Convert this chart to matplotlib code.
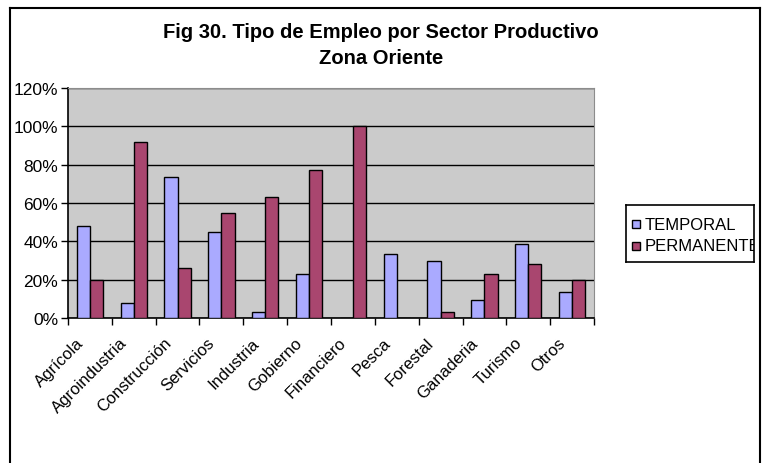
import numpy as np
import matplotlib
matplotlib.use("Agg")
import matplotlib.pyplot as plt
from matplotlib.patches import Rectangle
from matplotlib.lines import Line2D
from matplotlib.transforms import ScaledTranslation

plt.rcParams['font.family'] = ['Liberation Sans', 'DejaVu Sans']

# data
sectors = ["Agrícola", "Agroindustria", "Construcción", "Servicios", "Industria",
           "Gobierno", "Financiero", "Pesca", "Forestal", "Ganaderia", "Turismo", "Otros"]
temporal = [48, 8, 73.5, 45, 3, 23, 0, 33.5, 29.5, 9.5, 38.5, 13.5]
permanente = [20, 92, 26, 55, 63, 77, 100, 0, 3, 23, 28, 20]
yticks = [0, 20, 40, 60, 80, 100, 120]

c_temp = "#aaaaff"
c_perm = "#a9466f"

fig = plt.figure(figsize=(7.62, 4.64), dpi=100)

# outer chart frame (left, top, right only - bottom is cut off)
for xs, ys in [([10/762, 10/762], [0, 1-9/464]),
               ([10/762, 760/762], [1-9/464, 1-9/464]),
               ([760/762, 760/762], [0, 1-9/464])]:
    fig.add_artist(Line2D(xs, ys, color="black", lw=1.5, transform=fig.transFigure))

ax = fig.add_axes([68/762, 1-319/464, (594-68)/762, (319-89)/464])
ax.set_facecolor("#cbcbcb")

x = np.arange(len(sectors))
w = 0.3
ax.bar(x - w/2, temporal, w, color=c_temp, edgecolor="black", linewidth=1, zorder=3)
ax.bar(x + w/2, permanente, w, color=c_perm, edgecolor="black", linewidth=1, zorder=3)

ax.set_xlim(-0.5, len(sectors) - 0.5)
ax.set_ylim(0, 120)
ax.set_yticks(yticks)
ax.set_yticklabels([f"{v}%" for v in yticks], fontsize=12.5)
ax.yaxis.grid(True, color="black", lw=1, zorder=1)
ax.set_axisbelow(True)

# category labels drawn by hand: Excel puts the end of the rotated text
# a bit left of the category centre
ax.set_xticks([])
ax.set_xticks(np.arange(-0.5, len(sectors)), minor=True)
ax.tick_params(axis="x", which="minor", length=5, width=1, direction="out")
ax.tick_params(axis="y", length=5, width=1, direction="out", pad=2)
shift = ScaledTranslation(-9/100, -22/100, fig.dpi_scale_trans)
for i, name in enumerate(sectors):
    ax.text(i, 0, name, transform=ax.get_xaxis_transform() + shift,
            rotation=45, ha="right", va="center", rotation_mode="anchor", fontsize=12)

for s in ["top", "right"]:
    ax.spines[s].set_color("#8c8c8c")
for s in ["left", "bottom"]:
    ax.spines[s].set_color("black")
    ax.spines[s].set_linewidth(1.2)

fig.text(0.5, 1-33/464, "Fig 30. Tipo de Empleo por Sector Productivo",
         ha="center", va="center", fontsize=14.5, fontweight="bold")
fig.text(0.5, 1-59/464, "Zona Oriente",
         ha="center", va="center", fontsize=14.5, fontweight="bold")

# legend box, the text on the right is cut by the frame like in the original
lax = fig.add_axes([626/762, 1-263/464, (754-626)/762, (263-206)/464])
lax.set_xlim(0, 128)
lax.set_ylim(57, 0)
lax.set_xticks([])
lax.set_yticks([])
for s in lax.spines.values():
    s.set_linewidth(1.2)
lax.add_patch(Rectangle((6, 15), 8, 8, facecolor=c_temp, edgecolor="black", lw=1))
lax.add_patch(Rectangle((6, 37), 8, 8, facecolor=c_perm, edgecolor="black", lw=1))
lax.text(19, 19, "TEMPORAL", va="center", fontsize=12, clip_on=True)
lax.text(19, 41, "PERMANENTE", va="center", fontsize=12, clip_on=True)

fig.savefig("out.png", dpi=100)
